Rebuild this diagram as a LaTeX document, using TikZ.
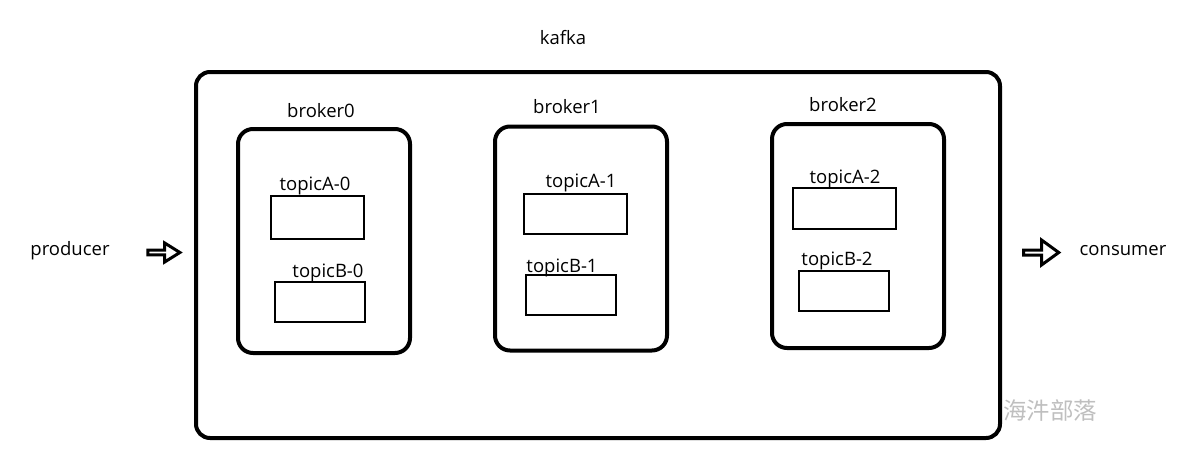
\documentclass[tikz,border=0pt]{standalone}
\usepackage{fontspec}
\setmainfont{Open Sans}
\newfontfamily\cjk{Noto Sans CJK SC}
\usetikzlibrary{shapes.arrows}
\begin{document}
\begin{tikzpicture}[x=1pt,y=-1pt,
  lbl/.style={font=\fontsize{18.5}{22}\selectfont, inner sep=0pt},
  outerbox/.style={draw, line width=4pt, rounded corners=14pt, inner sep=0pt},
  brokerbox/.style={draw, line width=4pt, rounded corners=15pt, minimum width=172pt, minimum height=224pt, inner sep=0pt},
  topicbox/.style={draw, line width=2.8pt, inner sep=0pt},
  blockarrow/.style={single arrow, draw, line width=3pt, inner sep=0pt, single arrow head indent=0pt}
]
\useasboundingbox (0,0) rectangle (1197,459);
\node[outerbox, minimum width=804pt, minimum height=366pt] (kafka) at (598,255) {};
\node[lbl] (kafkalbl) at (563,38) {kafka};

\node[brokerbox] (b0) at (324,241) {};
\node[brokerbox] (b1) at (581,238.5) {};
\node[brokerbox] (b2) at (858,236) {};
\node[lbl] (b0l) at (321,111) {broker0};
\node[lbl] (b1l) at (567,107) {broker1};
\node[lbl] (b2l) at (843,105) {broker2};

\node[topicbox, minimum width=93pt, minimum height=43pt] (a0) at (317.5,217.5) {};
\node[topicbox, minimum width=90pt, minimum height=40pt] (c0) at (320,302) {};
\node[topicbox, minimum width=103pt, minimum height=40pt] (a1) at (575.5,214) {};
\node[topicbox, minimum width=90pt, minimum height=40pt] (c1) at (571,295) {};
\node[topicbox, minimum width=103pt, minimum height=41pt] (a2) at (844.5,208.5) {};
\node[topicbox, minimum width=90pt, minimum height=40pt] (c2) at (844,291) {};

\node[lbl] (a0l) at (315,186) {topicA-0};
\node[lbl] (c0l) at (328,273) {topicB-0};
\node[lbl] (a1l) at (581,183) {topicA-1};
\node[lbl] (c1l) at (562,268) {topicB-1};
\node[lbl] (a2l) at (845,179) {topicA-2};
\node[lbl] (c2l) at (837,261) {topicB-2};

\node[lbl] (prod) at (70,251) {producer};
\node[lbl] (cons) at (1123,251) {consumer};

\node[blockarrow, minimum width=19pt, minimum height=32pt, single arrow head extend=4.5pt, single arrow tip angle=64] (pa) at (162,252.5) {};
\node[blockarrow, minimum width=25pt, minimum height=35pt, single arrow head extend=6pt, single arrow tip angle=72] (ca) at (1039.5,252.5) {};

\node[font=\cjk\fontsize{23.5}{26}\selectfont, text=black!25, inner sep=0pt] (wm) at (1050,411) {海汼部落};
\end{tikzpicture}
\end{document}
